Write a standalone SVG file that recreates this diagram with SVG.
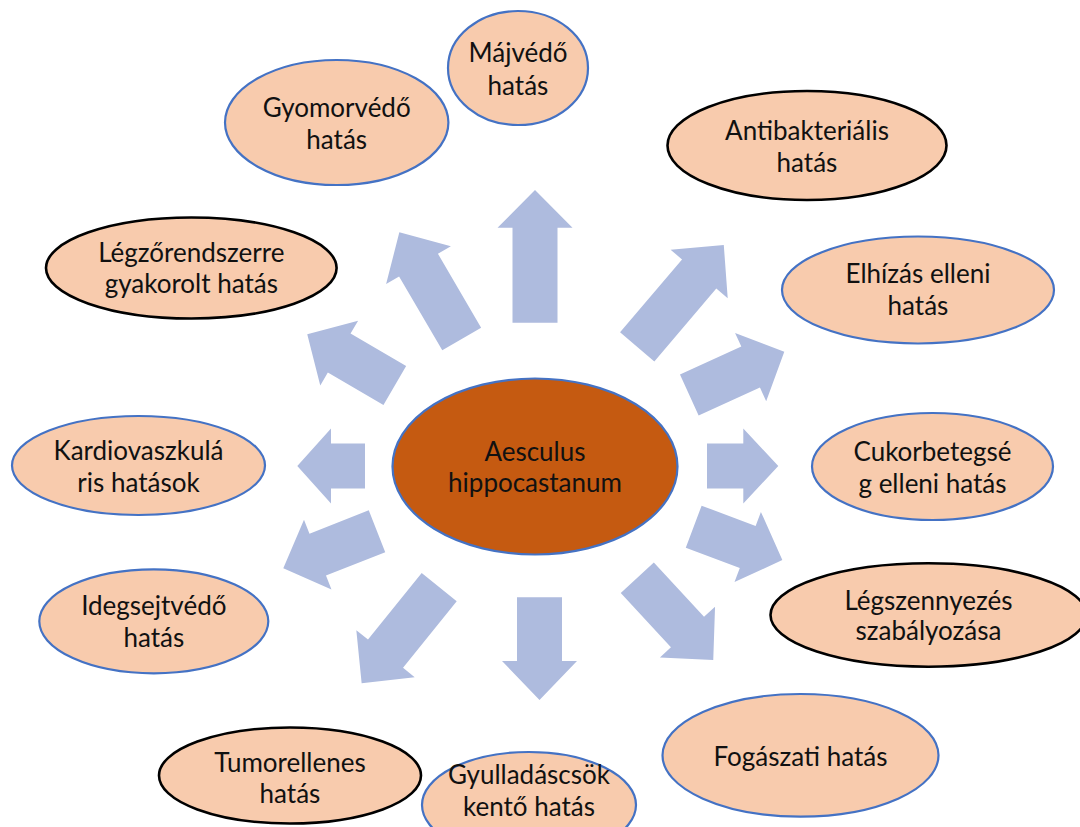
<svg xmlns="http://www.w3.org/2000/svg" width="1080" height="827" viewBox="0 0 1080 827">
<style>
.n{fill:#F8CBAD;stroke:#4472C4;stroke-width:2.2}
.nb{fill:#F8CBAD;stroke:#000;stroke-width:2.6}
.c{fill:#C55A11;stroke:#4472C4;stroke-width:2.2}
.a{fill:#AEBBDE}
text{font-family:Lato,"Open Sans","Liberation Sans",sans-serif;font-size:26px;fill:#111;text-anchor:middle}
</style>
<rect width="1080" height="827" fill="#fff"/>
<g id="connectors">
<polygon class="a" points="0,-22.5 95,-22.5 95,-37.5 132.7,0 95,37.5 95,22.5 0,22.5" transform="translate(535,322.7) rotate(-90)"/>
<polygon class="a" points="0,-22.5 85.6,-22.5 85.6,-37.5 123.6,0 85.6,37.5 85.6,22.5 0,22.5" transform="translate(461.7,339) rotate(-120.3)"/>
<polygon class="a" points="0,-22.5 64.4,-22.5 64.4,-37.5 101.4,0 64.4,37.5 64.4,22.5 0,22.5" transform="translate(394.8,385.5) rotate(-149.7)"/>
<polygon class="a" points="0,-22.5 95.6,-22.5 95.6,-37.5 133.6,0 95.6,37.5 95.6,22.5 0,22.5" transform="translate(637.2,346.8) rotate(-49.6)"/>
<polygon class="a" points="0,-22.5 67.4,-22.5 67.4,-37.5 104.4,0 67.4,37.5 67.4,22.5 0,22.5" transform="translate(689.3,395) rotate(-24.5)"/>
<polygon class="a" points="0,-22.5 34,-22.5 34,-37.5 67.7,0 34,37.5 34,22.5 0,22.5" transform="translate(365,466) rotate(180)"/>
<polygon class="a" points="0,-22.5 36.3,-22.5 36.3,-37.5 71.3,0 36.3,37.5 36.3,22.5 0,22.5" transform="translate(707,466)"/>
<polygon class="a" points="0,-22.5 63.7,-22.5 63.7,-37.5 100.7,0 63.7,37.5 63.7,22.5 0,22.5" transform="translate(377,531.3) rotate(158.5)"/>
<polygon class="a" points="0,-22.5 85.5,-22.5 85.5,-37.5 123.5,0 85.5,37.5 85.5,22.5 0,22.5" transform="translate(439.2,587.2) rotate(128.9)"/>
<polygon class="a" points="0,-22.5 63.7,-22.5 63.7,-37.5 102.7,0 63.7,37.5 63.7,22.5 0,22.5" transform="translate(539.5,597.3) rotate(90)"/>
<polygon class="a" points="0,-22.5 57.7,-22.5 57.7,-37.5 94.7,0 57.7,37.5 57.7,22.5 0,22.5" transform="translate(693.7,526.7) rotate(20.6)"/>
<polygon class="a" points="0,-22.5 74,-22.5 74,-37.5 112,0 74,37.5 74,22.5 0,22.5" transform="translate(637.3,577.7) rotate(47.3)"/>
</g>
<g id="center">
<ellipse class="c" cx="535" cy="466.5" rx="142.5" ry="88"/>
<text x="535" y="461">Aesculus</text>
<text x="535" y="492">hippocastanum</text>
</g>
<g id="majvedo">
<ellipse class="n" cx="518" cy="68" rx="70" ry="57"/>
<text x="518" y="62">Májvédő</text>
<text x="518" y="95">hatás</text>
</g>
<g id="gyomorvedo">
<ellipse class="n" cx="336.7" cy="122.5" rx="111.7" ry="62.5"/>
<text x="336.7" y="116.7">Gyomorvédő</text>
<text x="336.7" y="148.5">hatás</text>
</g>
<g id="antibakterialis">
<ellipse class="nb" cx="807" cy="145.5" rx="139.5" ry="54.5"/>
<text x="807" y="139.5">Antibakteriális</text>
<text x="807" y="172">hatás</text>
</g>
<g id="legzorendszer">
<ellipse class="nb" cx="191.3" cy="268" rx="145.3" ry="50.5"/>
<text x="191.3" y="261.7">Légzőrendszerre</text>
<text x="191.3" y="293.3">gyakorolt hatás</text>
</g>
<g id="elhizas">
<ellipse class="n" cx="918" cy="290" rx="136" ry="53.5"/>
<text x="918" y="283.3">Elhízás elleni</text>
<text x="918" y="315">hatás</text>
</g>
<g id="kardio">
<ellipse class="n" cx="138.5" cy="465.5" rx="126.5" ry="49.5"/>
<text x="138.5" y="460">Kardiovaszkulá</text>
<text x="138.5" y="492">ris hatások</text>
</g>
<g id="cukor">
<ellipse class="n" cx="932.5" cy="466.5" rx="120.5" ry="53.5"/>
<text x="932.5" y="461">Cukorbetegsé</text>
<text x="932.5" y="493">g elleni hatás</text>
</g>
<g id="idegsejt">
<ellipse class="n" cx="153.8" cy="621.3" rx="114.5" ry="52"/>
<text x="153.8" y="615">Idegsejtvédő</text>
<text x="153.8" y="647.3">hatás</text>
</g>
<g id="legszennyezes">
<ellipse class="nb" cx="928.5" cy="615" rx="158" ry="51.7"/>
<text x="928.5" y="610">Légszennyezés</text>
<text x="928.5" y="640">szabályozása</text>
</g>
<g id="tumor">
<ellipse class="nb" cx="290" cy="775.5" rx="131" ry="48"/>
<text x="290" y="771.7">Tumorellenes</text>
<text x="290" y="803.3">hatás</text>
</g>
<g id="gyulladas">
<ellipse class="n" cx="529" cy="805" rx="107" ry="53"/>
<text x="529" y="784">Gyulladáscsök</text>
<text x="529" y="816">kentő hatás</text>
</g>
<g id="fogaszati">
<ellipse class="n" cx="800.5" cy="755.3" rx="138" ry="61.3"/>
<text x="800.5" y="766">Fogászati hatás</text>
</g>
</svg>
